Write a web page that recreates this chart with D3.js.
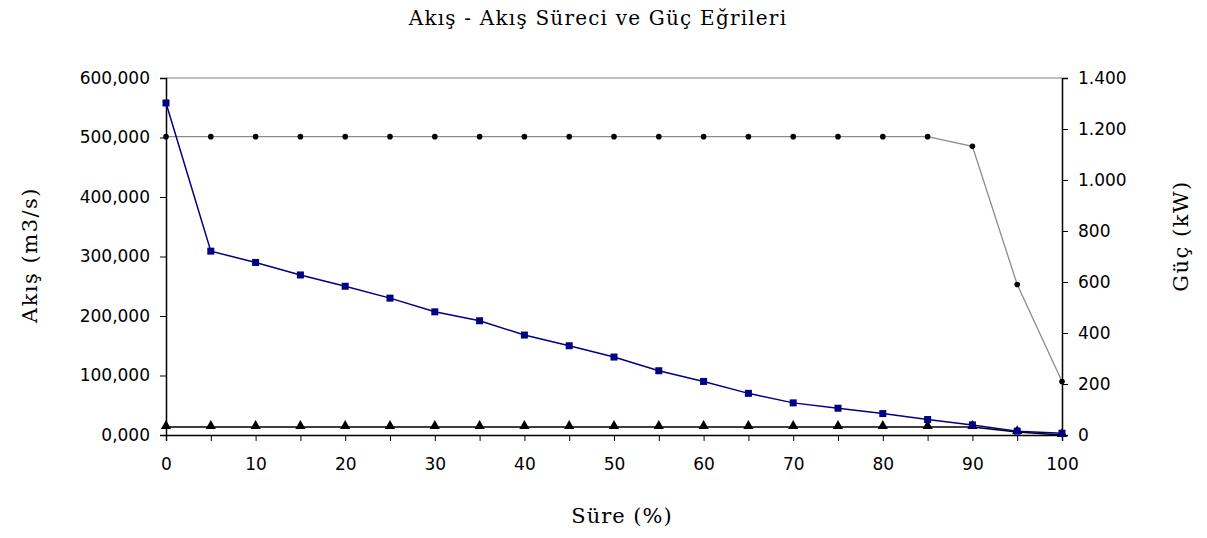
<!DOCTYPE html>
<html>
<head>
<meta charset="utf-8">
<script src="https://cdn.jsdelivr.net/npm/d3@7"></script>
<style>
  body { margin: 0; background: #fff; }
  .tick text { font-family: "DejaVu Sans", Arial, sans-serif; font-size: 17px; fill: #000; }
  .ttl { font-family: "DejaVu Serif", "Times New Roman", serif; fill: #000; }
</style>
</head>
<body>
<svg width="1207" height="538"></svg>
<script>
// x: süre (%)
var sure = [0, 5, 10, 15, 20, 25, 30, 35, 40, 45, 50, 55, 60, 65, 70, 75, 80, 85, 90, 95, 100];
// akis curve (m3/s), left axis
var akis = [558000, 309000, 290000, 269000, 250000, 230000, 207000, 192000, 168000, 150000, 131000,
            108000, 90000, 70000, 54000, 45000, 36000, 26000, 17000, 6500, 3000];
// installed flow line (m3/s), left axis
var akisKurulu = [13500, 13500, 13500, 13500, 13500, 13500, 13500, 13500, 13500, 13500, 13500,
                  13500, 13500, 13500, 13500, 13500, 13500, 13500, 13500, 5000, 0];
// güç (kW), right axis
var guc = [1170, 1170, 1170, 1170, 1170, 1170, 1170, 1170, 1170, 1170, 1170,
           1170, 1170, 1170, 1170, 1170, 1170, 1170, 1132, 590, 210];

var leftTicks = [0, 100000, 200000, 300000, 400000, 500000, 600000];
var rightTicks = [0, 200, 400, 600, 800, 1000, 1200, 1400];
var xTicks = [0, 10, 20, 30, 40, 50, 60, 70, 80, 90, 100];

var svg = d3.select("svg"),
    margin = { top: 78, right: 145, bottom: 103, left: 166 },
    width = +svg.attr("width") - margin.left - margin.right,
    height = +svg.attr("height") - margin.top - margin.bottom;

var x = d3.scaleLinear().domain([0, 100]).range([0, width]),
    yL = d3.scaleLinear().domain([0, 600000]).range([height, 0]),
    yR = d3.scaleLinear().domain([0, 1400]).range([height, 0]);

var g = svg.append("g")
    .attr("transform", "translate(" + margin.left + "," + margin.top + ")");

// top border
g.append("line")
    .attr("x1", 0).attr("x2", width).attr("y1", 0).attr("y2", 0)
    .attr("stroke", "#808080").attr("stroke-width", 1);

var blackDomain = function (a) {
    a.select(".domain").attr("stroke", "#000").attr("stroke-width", 1.5);
    a.selectAll(".tick line").attr("stroke", "#000");
};

g.append("g")
    .attr("transform", "translate(0," + height + ")")
    .call(d3.axisBottom(x).tickValues(sure).tickSize(6).tickPadding(17)
        .tickFormat(function (d) { return xTicks.indexOf(d) >= 0 ? d : ""; }))
    .call(blackDomain);

g.append("g")
    .call(d3.axisLeft(yL).tickValues(leftTicks).tickSize(6).tickPadding(10)
        .tickFormat(function (d) { return d3.format(",")(d / 1000) + ",000"; }))
    .call(blackDomain);

g.append("g")
    .attr("transform", "translate(" + width + ",0)")
    .call(d3.axisRight(yR).tickValues(rightTicks).tickSize(6).tickPadding(10)
        .tickFormat(function (d) { return d3.format(",")(d).replace(",", "."); }))
    .call(blackDomain);

// lines
var lineL = d3.line().x(function (d, i) { return x(sure[i]); }).y(function (d) { return yL(d); });
var lineR = d3.line().x(function (d, i) { return x(sure[i]); }).y(function (d) { return yR(d); });

g.append("path").attr("d", lineR(guc))
    .attr("fill", "none").attr("stroke", "#8c8c8c").attr("stroke-width", 1.3);
g.selectAll(".dot").data(guc).enter().append("circle")
    .attr("cx", function (d, i) { return x(sure[i]); })
    .attr("cy", function (d) { return yR(d); })
    .attr("r", 2.8).attr("fill", "#000");

g.append("path").attr("d", lineL(akisKurulu))
    .attr("fill", "none").attr("stroke", "#000").attr("stroke-width", 1.5);
g.selectAll(".tri").data(akisKurulu).enter().append("path")
    .attr("d", d3.symbol().type(d3.symbolTriangle).size(45))
    .attr("transform", function (d, i) { return "translate(" + x(sure[i]) + "," + (yL(d) - 1) + ")"; })
    .attr("fill", "#000");

g.append("path").attr("d", lineL(akis))
    .attr("fill", "none").attr("stroke", "#000080").attr("stroke-width", 1.5);
g.selectAll(".sq").data(akis).enter().append("rect")
    .attr("x", function (d, i) { return x(sure[i]) - 3.5; })
    .attr("y", function (d) { return yL(d) - 3.5; })
    .attr("width", 7).attr("height", 7)
    .attr("fill", "#000080");

// titles
svg.append("text").attr("class", "ttl")
    .attr("x", 598).attr("y", 25).attr("text-anchor", "middle")
    .style("font-size", "20px").style("letter-spacing", "1.2px")
    .text("Akış - Akış Süreci ve Güç Eğrileri");

svg.append("text").attr("class", "ttl")
    .attr("x", 622).attr("y", 523).attr("text-anchor", "middle")
    .style("font-size", "21px").style("letter-spacing", "1px").text("Süre (%)");

svg.append("text").attr("class", "ttl")
    .attr("transform", "translate(37,255) rotate(-90)").attr("text-anchor", "middle")
    .style("font-size", "21px").style("letter-spacing", "1.5px").text("Akış (m3/s)");

svg.append("text").attr("class", "ttl")
    .attr("transform", "translate(1188,236) rotate(-90)").attr("text-anchor", "middle")
    .style("font-size", "21px").style("letter-spacing", "1.5px").text("Güç (kW)");
</script>
</body>
</html>
